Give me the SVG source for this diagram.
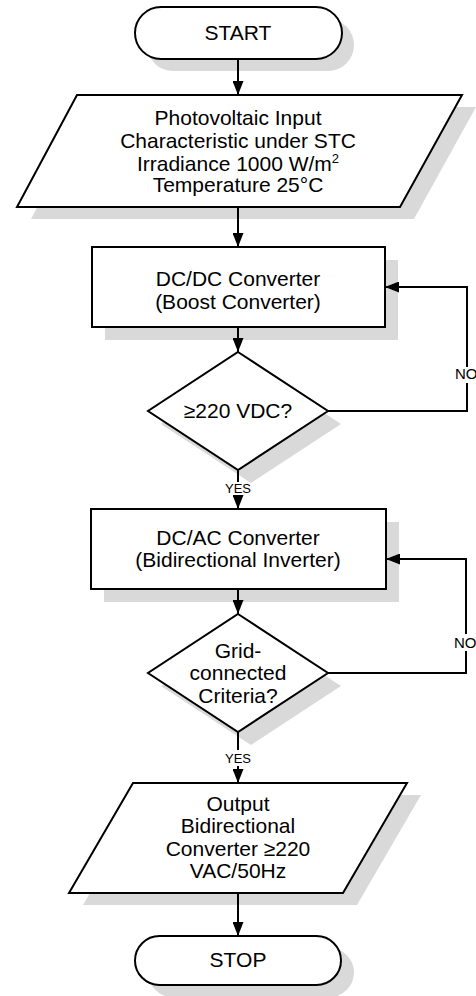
<svg xmlns="http://www.w3.org/2000/svg" width="476" height="996" viewBox="0 0 476 996">
  <defs>
    <style>
      .shadow { fill: #d9d9d9; stroke: none; }
      .shape { fill: #ffffff; stroke: #000000; stroke-width: 2; stroke-linejoin: miter; }
      .label { font-family: "Liberation Sans", Arial, sans-serif; font-size: 21px; fill: #000000; text-anchor: middle; }
      .sup { font-size: 13px; }
      .edge { fill: none; stroke: #000000; stroke-width: 2; }
      .edge-label { font-family: "Liberation Sans", Arial, sans-serif; font-size: 13px; fill: #000000; text-anchor: middle; }
      .no-label { font-family: "Liberation Sans", Arial, sans-serif; font-size: 15px; fill: #000000; }
    </style>
    <marker id="arrow" viewBox="0 0 14 11" refX="14" refY="5.5" markerWidth="14" markerHeight="11" markerUnits="userSpaceOnUse" orient="auto">
      <path d="M0,0 L14,5.5 L0,11 z" fill="#000000"/>
    </marker>
  </defs>

  <rect width="476" height="996" fill="#ffffff"/>

  <!-- Start terminator -->
  <g id="start">
    <rect class="shadow" x="147" y="19" width="207" height="52" rx="26"/>
    <rect class="shape" x="135" y="7" width="207" height="52" rx="26"/>
    <text class="label" x="238" y="40">START</text>
  </g>

  <!-- PV input data -->
  <g id="pv-input">
    <polygon class="shadow" points="91,107 476,107 414,219 31,219"/>
    <polygon class="shape" points="77,95 462,95 400,207 17,207"/>
    <text class="label" x="238" y="125">Photovoltaic Input</text>
    <text class="label" x="238" y="148">Characteristic under STC</text>
    <text class="label" x="238" y="171">Irradiance 1000 W/m<tspan class="sup" dy="-8">2</tspan></text>
    <text class="label" x="238" y="192">Temperature 25°C</text>
  </g>

  <!-- Boost stage -->
  <g id="dcdc">
    <rect class="shadow" x="105" y="260" width="293" height="80"/>
    <rect class="shape" x="92" y="247" width="293" height="80"/>
    <text class="label" x="238" y="286">DC/DC Converter</text>
    <text class="label" x="238" y="309">(Boost Converter)</text>
  </g>

  <!-- DC link voltage check -->
  <g id="check-vdc">
    <polygon class="shadow" points="251,365 341,424 251,483 161,424"/>
    <polygon class="shape" points="238,352 328,411 238,470 148,411"/>
    <text class="label" x="238" y="418">≥220 VDC?</text>
  </g>

  <!-- Inverter stage -->
  <g id="dcac">
    <rect class="shadow" x="104" y="522" width="295" height="80"/>
    <rect class="shape" x="91" y="509" width="295" height="80"/>
    <text class="label" x="238" y="545">DC/AC Converter</text>
    <text class="label" x="238" y="567">(Bidirectional Inverter)</text>
  </g>

  <!-- Grid criteria check -->
  <g id="check-grid">
    <polygon class="shadow" points="251,627 341,686 251,745 161,686"/>
    <polygon class="shape" points="238,614 328,673 238,732 148,673"/>
    <text class="label" x="238" y="658">Grid-</text>
    <text class="label" x="238" y="680">connected</text>
    <text class="label" x="238" y="703">Criteria?</text>
  </g>

  <!-- Output data -->
  <g id="output">
    <polygon class="shadow" points="147,795 421,795 357,905 83,905"/>
    <polygon class="shape" points="133,783 407,783 343,893 69,893"/>
    <text class="label" x="238" y="811">Output</text>
    <text class="label" x="238" y="833">Bidirectional</text>
    <text class="label" x="238" y="856">Converter ≥220</text>
    <text class="label" x="238" y="878">VAC/50Hz</text>
  </g>

  <!-- Stop terminator -->
  <g id="stop">
    <rect class="shadow" x="148" y="948" width="206" height="49" rx="24.5"/>
    <rect class="shape" x="135" y="936" width="206" height="49" rx="24.5"/>
    <text class="label" x="238" y="967">STOP</text>
  </g>

  <!-- Flow lines -->
  <g id="connectors">
    <line class="edge" x1="238" y1="59" x2="238" y2="95" marker-end="url(#arrow)"/>
    <line class="edge" x1="238" y1="207" x2="238" y2="247" marker-end="url(#arrow)"/>
    <line class="edge" x1="238" y1="327" x2="238" y2="352" marker-end="url(#arrow)"/>

    <line class="edge" x1="238" y1="470" x2="238" y2="482"/>
    <text class="edge-label" x="238" y="493">YES</text>
    <line class="edge" x1="238" y1="495" x2="238" y2="509" marker-end="url(#arrow)"/>

    <path class="edge" d="M328,411 H467 V383"/>
    <text class="no-label" x="455" y="379">NO</text>
    <path class="edge" d="M467,367 V287 H385" marker-end="url(#arrow)"/>

    <line class="edge" x1="238" y1="589" x2="238" y2="614" marker-end="url(#arrow)"/>

    <path class="edge" d="M328,673 H466 V651"/>
    <text class="no-label" x="454" y="648">NO</text>
    <path class="edge" d="M466,634 V559 H386" marker-end="url(#arrow)"/>

    <line class="edge" x1="238" y1="732" x2="238" y2="750"/>
    <text class="edge-label" x="238" y="763">YES</text>
    <line class="edge" x1="238" y1="766" x2="238" y2="783" marker-end="url(#arrow)"/>

    <line class="edge" x1="238" y1="893" x2="238" y2="936" marker-end="url(#arrow)"/>
  </g>
</svg>
